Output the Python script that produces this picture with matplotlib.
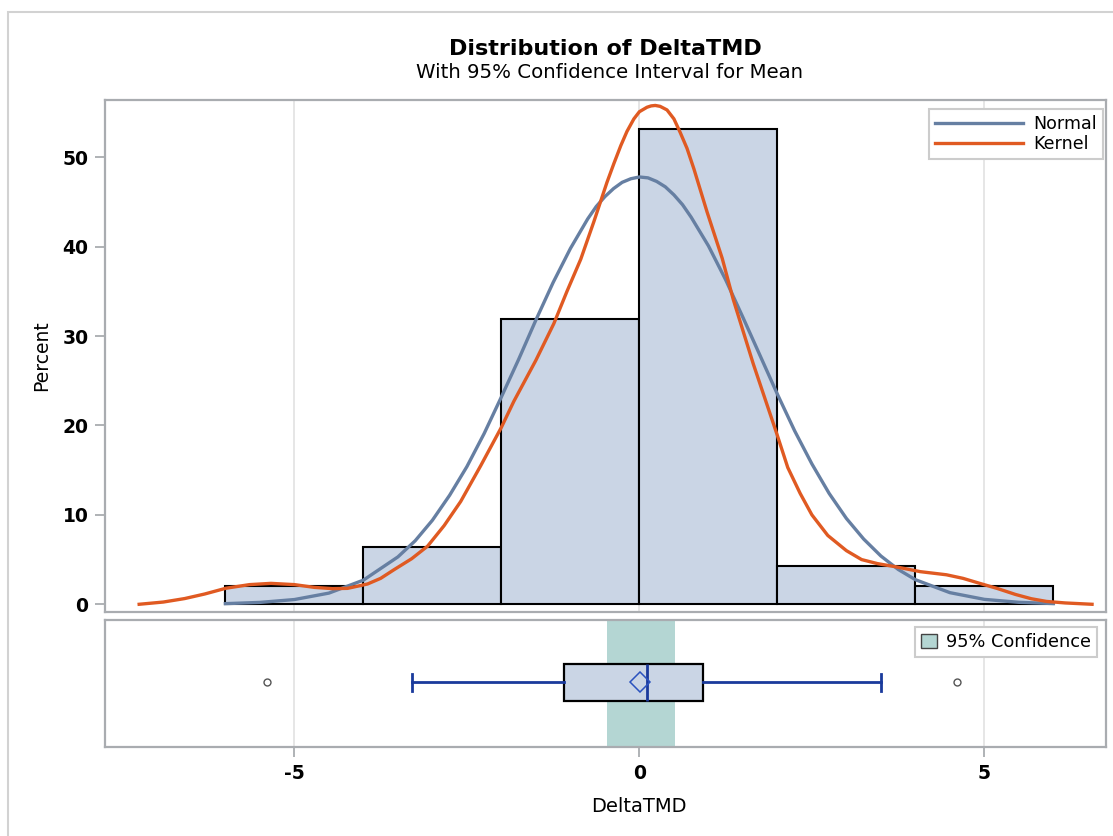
import matplotlib
matplotlib.use('Agg')
from matplotlib import pyplot as plt
from matplotlib.patches import Patch, Rectangle

# histogram (percent per bin of width 2)
BIN_EDGES = [-6, -4, -2, 0, 2, 4, 6]
BIN_PERCENT = [2.1, 6.4, 31.9, 53.2, 4.3, 2.1]

# fitted normal curve
NORMAL_X = [-6.0, -5.5, -5.0, -4.5, -4.0, -3.5, -3.25, -3.0, -2.75, -2.5, -2.25, -2.0, -1.75, -1.5,
            -1.25, -1.0, -0.75, -0.625, -0.5, -0.375, -0.25, -0.125, 0.0, 0.125, 0.25, 0.375, 0.5,
            0.625, 0.75, 1.0, 1.25, 1.5, 1.75, 2.0, 2.25, 2.5, 2.75, 3.0, 3.25, 3.5, 3.75, 4.0,
            4.5, 5.0, 5.5, 6.0]
NORMAL_Y = [0.07, 0.21, 0.53, 1.25, 2.7, 5.3, 7.1, 9.4, 12.2, 15.4, 19.1, 23.2, 27.4, 31.8,
            36.0, 39.8, 43.1, 44.5, 45.6, 46.5, 47.2, 47.6, 47.8, 47.7, 47.3, 46.7, 45.8,
            44.7, 43.3, 40.1, 36.3, 32.1, 27.8, 23.5, 19.4, 15.7, 12.4, 9.6, 7.3, 5.4, 3.9, 2.75,
            1.3, 0.55, 0.22, 0.08]

# kernel density curve
KERNEL_X = [-7.25, -6.9, -6.59, -6.3, -5.99, -5.65, -5.34, -5.0, -4.71, -4.45, -4.23, -3.94, -3.75,
            -3.56, -3.3, -3.07, -2.83, -2.59, -2.3, -2.0, -1.82, -1.5, -1.24, -1.05, -0.85, -0.66,
            -0.47, -0.37, -0.27, -0.18, -0.08, 0.0, 0.11, 0.17, 0.23, 0.3, 0.4, 0.5, 0.59, 0.69,
            0.79, 0.98, 1.2, 1.36, 1.65, 1.99, 2.15, 2.33, 2.5, 2.73, 3.0, 3.22, 3.45, 3.71, 4.07,
            4.45, 4.69, 4.95, 5.19, 5.45, 5.68, 5.9, 6.17, 6.56]
KERNEL_Y = [0.0, 0.25, 0.64, 1.15, 1.8, 2.2, 2.34, 2.2, 1.89, 1.75, 1.78, 2.27, 2.9,
            3.85, 5.1, 6.5, 8.8, 11.5, 15.5, 19.8, 22.7, 27.3, 31.4, 35.0, 38.6, 42.8,
            47.2, 49.3, 51.3, 52.9, 54.3, 55.1, 55.6, 55.75, 55.8, 55.7, 55.3, 54.3, 52.8, 51.0,
            48.7, 43.9, 38.7, 34.1, 26.9, 19.1, 15.3, 12.4, 10.0, 7.7, 6.0, 5.0, 4.55, 4.2, 3.65,
            3.3, 2.9, 2.3, 1.76, 1.1, 0.62, 0.32, 0.15, 0.0]

# box plot summary
BOX_STATS = dict(whislo=-3.30, q1=-1.09, med=0.11, q3=0.92, whishi=3.50, mean=0.01, fliers=[-5.40, 4.60])
CI_MEAN = (-0.47, 0.51)

X_TICKS = [-5, 0, 5]
Y_TICKS = [0, 10, 20, 30, 40, 50]

FILL = '#cad5e5'
NORMAL_COLOR = '#667fa2'
KERNEL_COLOR = '#e05a22'
BOX_BLUE = '#1a3a9c'
CI_COLOR = '#b4d6d3'
FRAME = '#a9acb0'
GRID = '#e4e4e4'


def style_axes(axes):
    for spine in axes.spines.values():
        spine.set_color(FRAME)
        spine.set_linewidth(1.6)
    axes.grid(axis='x', color=GRID, linewidth=1.3)
    axes.grid(axis='y', visible=False)
    axes.set_axisbelow(True)
    axes.tick_params(colors=FRAME, labelcolor='black', length=7.5, width=1.3)


def main():
    fig = plt.figure(figsize=(11.13, 8.36), dpi=100)
    hist_ax = fig.add_axes([105 / 1113, 1 - 611.7 / 836, 1000.5 / 1113, 511.7 / 836])
    box_ax = fig.add_axes([105 / 1113, 1 - 747 / 836, 1000.5 / 1113, 127 / 836], sharex=hist_ax)

    fig.patches.append(Rectangle((8 / 1113, -0.1), 2, 1 - 12 / 836 + 0.1, transform=fig.transFigure,
                                 facecolor='none', edgecolor='#d2d2d2', linewidth=1.5))

    # histogram panel
    style_axes(hist_ax)
    widths = [b - a for a, b in zip(BIN_EDGES[:-1], BIN_EDGES[1:])]
    hist_ax.bar(BIN_EDGES[:-1], BIN_PERCENT, width=widths, align='edge', color=FILL,
                edgecolor='black', linewidth=1.5, zorder=2)
    hist_ax.plot(NORMAL_X, NORMAL_Y, color=NORMAL_COLOR, linewidth=2.4, label='Normal', zorder=3,
                 solid_joinstyle='round')
    hist_ax.plot(KERNEL_X, KERNEL_Y, color=KERNEL_COLOR, linewidth=2.4, label='Kernel', zorder=4,
                 solid_joinstyle='round')
    hist_ax.set_xlim(-7.745, 6.755)
    hist_ax.set_ylim(-0.83, 56.41)
    hist_ax.set_yticks(Y_TICKS)
    hist_ax.set_yticklabels([str(t) for t in Y_TICKS], fontsize=13.5, fontweight='bold')
    hist_ax.tick_params(axis='y', pad=4.5)
    hist_ax.tick_params(axis='x', bottom=False, labelbottom=False)
    legend = hist_ax.legend(loc='upper right', bbox_to_anchor=(0.9975, 0.9832), borderaxespad=0,
                            fontsize=12.6, handlelength=5, fancybox=False, framealpha=1,
                            edgecolor='#cccccc', borderpad=0.35, labelspacing=0.15, handletextpad=0.6)
    legend.get_frame().set_linewidth(1.5)

    # box plot panel
    style_axes(box_ax)
    box_ax.axvspan(*CI_MEAN, color=CI_COLOR, linewidth=0, zorder=1)
    box_ax.bxp([BOX_STATS], positions=[0.508], widths=0.29, orientation='horizontal', patch_artist=True,
               showmeans=True, capwidths=0.14, manage_ticks=False, zorder=3,
               boxprops=dict(facecolor=FILL, edgecolor='black', linewidth=1.6),
               whiskerprops=dict(color=BOX_BLUE, linewidth=2),
               capprops=dict(color=BOX_BLUE, linewidth=2),
               medianprops=dict(color=BOX_BLUE, linewidth=2),
               meanprops=dict(marker='D', markersize=10, markerfacecolor='none',
                              markeredgecolor='#2a52be', markeredgewidth=1.1),
               flierprops=dict(marker='o', markersize=5, markerfacecolor='none',
                               markeredgecolor='#555555', markeredgewidth=1))
    box_ax.set_ylim(0, 1)
    box_ax.tick_params(axis='y', left=False, labelleft=False)
    box_ax.set_xticks(X_TICKS)
    box_ax.set_xticklabels([str(t) for t in X_TICKS], fontsize=13.5, fontweight='bold')
    box_ax.tick_params(axis='x', pad=5)
    ci_legend = box_ax.legend(handles=[Patch(facecolor=CI_COLOR, edgecolor='#444444', label='95% Confidence')],
                              loc='upper right', bbox_to_anchor=(0.9915, 0.945), borderaxespad=0,
                              fontsize=12.8, handlelength=0.9, handleheight=0.9, fancybox=False,
                              framealpha=1, edgecolor='#cccccc', borderpad=0.35, handletextpad=0.5)
    ci_legend.get_frame().set_linewidth(1.5)

    # titles and axis labels
    fig.text(605 / 1113, 1 - 55 / 836, 'Distribution of DeltaTMD', ha='center', va='baseline',
             fontsize=16, fontweight='bold')
    fig.text(609 / 1113, 1 - 78 / 836, 'With 95% Confidence Interval for Mean', ha='center',
             va='baseline', fontsize=14.2)
    fig.text(42 / 1113, 1 - 356 / 836, 'Percent', rotation=90, ha='center', va='center', fontsize=13.5)
    fig.text(639 / 1113, 1 - 806 / 836, 'DeltaTMD', ha='center', va='center', fontsize=14)

    fig.savefig('out.png', dpi=100)
    plt.close(fig)


if __name__ == '__main__':
    main()
